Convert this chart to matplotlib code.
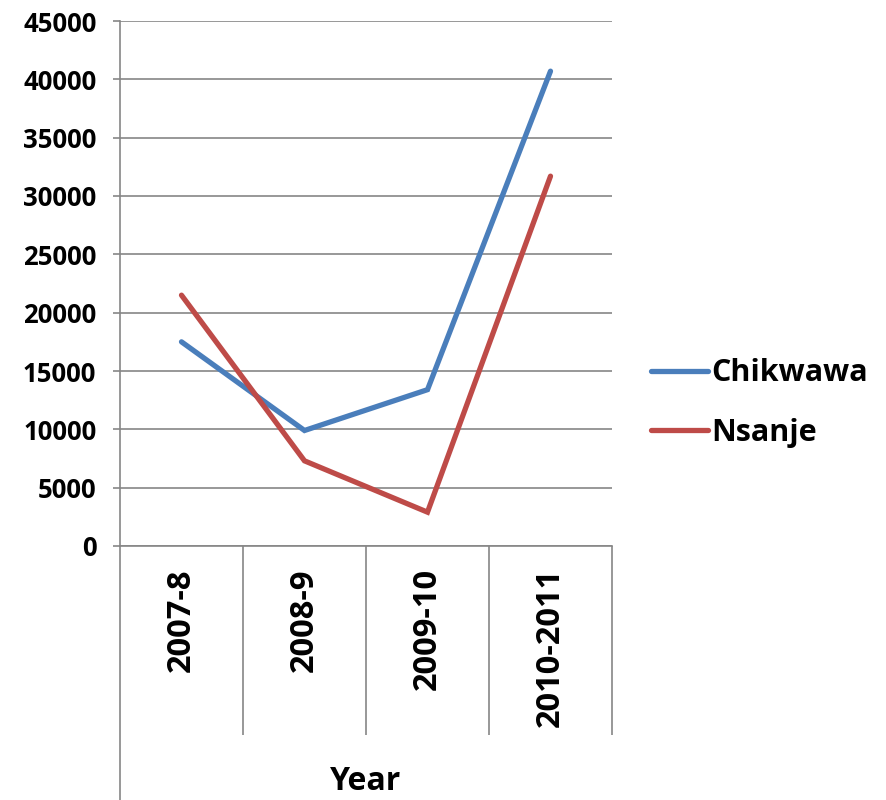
import matplotlib.pyplot as plt

years = ['2007-8', '2008-9', '2009-10', '2010-2011']
chikwawa = [17500, 9900, 13400, 40700]
nsanje = [21500, 7300, 2900, 31700]
y_ticks = [0, 5000, 10000, 15000, 20000, 25000, 30000, 35000, 40000, 45000]

plt.rcParams['font.family'] = ['Open Sans', 'DejaVu Sans']
plt.rcParams['font.weight'] = 'bold'

GRID = '#868686'

fig = plt.figure(figsize=(8.87, 8.0), dpi=100)
ax = fig.add_axes([120 / 887, 1 - 546 / 800, 492 / 887, 525 / 800])

x = list(range(len(years)))
ax.plot(x, chikwawa, color='#4A7EBB', linewidth=3.8, solid_capstyle='round',
        solid_joinstyle='miter', label='Chikwawa')
ax.plot(x, nsanje, color='#BE4B48', linewidth=3.8, solid_capstyle='round',
        solid_joinstyle='miter', label='Nsanje')

ax.set_xlim(-0.5, len(years) - 0.5)
ax.set_ylim(0, 45000)
ax.set_yticks(y_ticks)
ax.set_yticklabels([str(v) for v in y_ticks], fontsize=18.5, fontweight='bold')
ax.yaxis.grid(True, color=GRID, linewidth=1.2)
ax.set_axisbelow(True)

# category labels sit between long divider ticks
ax.set_xticks(x)
ax.set_xticklabels(years, rotation=90, fontsize=23.5, fontweight='bold',
                   va='top', ha='center')
ax.tick_params(axis='x', which='major', length=0, pad=16)
ax.set_xticks([i + 0.5 for i in x], minor=True)
ax.tick_params(axis='x', which='minor', length=136, width=1.2, color=GRID)
ax.tick_params(axis='y', length=5, width=1.2, color=GRID, pad=12)

for side in ['top', 'right']:
    ax.spines[side].set_visible(False)
for side in ['left', 'bottom']:
    ax.spines[side].set_color(GRID)
    ax.spines[side].set_linewidth(1.2)

# left axis line runs down past the labels
ax.plot([-0.5, -0.5], [0, -254 / 525], transform=ax.get_xaxis_transform(),
        color=GRID, linewidth=1.2, clip_on=False)

fig.text(366 / 887, 1 - 782 / 800, 'Year', ha='center', va='center',
         fontsize=23, fontweight='bold')

leg = fig.legend(loc='center left', bbox_to_anchor=(651 / 887, 1 - 403 / 800),
                 frameon=False, fontsize=22, handlelength=1.85,
                 handletextpad=0.13, labelspacing=0.95, borderpad=0,
                 borderaxespad=0)
for t in leg.get_texts():
    t.set_fontweight('bold')

fig.savefig('out.png', dpi=100)
